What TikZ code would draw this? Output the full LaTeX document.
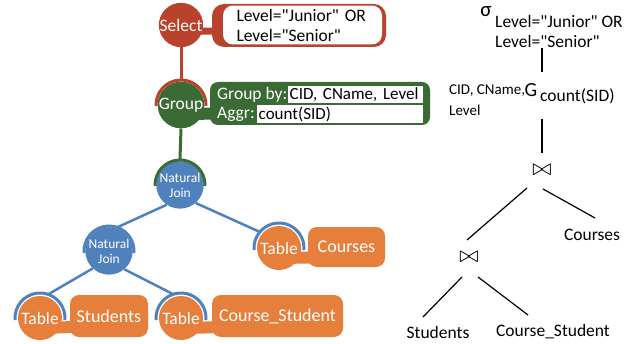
\documentclass[tikz,border=0pt]{standalone}
\usepackage{fontspec}
\setmainfont{Carlito}[Ligatures=TeXOff]
\usetikzlibrary{backgrounds}
\definecolor{selred}{RGB}{184,66,44}
\definecolor{grpgreen}{RGB}{58,107,52}
\definecolor{joinblue}{RGB}{79,129,189}
\definecolor{taborange}{RGB}{231,127,60}
\newcommand{\joinsym}{\scalebox{2.3}{$\bowtie$}}
\begin{document}
\begin{tikzpicture}[x=1pt,y=1pt,
  opnode/.style={circle,fill=#1,text=white,inner sep=0pt,minimum size=44pt,font=\fontsize{17.5}{17.5}\selectfont},
  joinnode/.style={opnode=joinblue,minimum size=42pt,align=center,font=\fontsize{13.5}{15}\selectfont},
  tabbox/.style={rounded corners=9pt,fill=taborange,text=white,minimum height=42pt,font=\fontsize{18}{18}\selectfont},
  hat/.style={line width=3pt,draw=#1},
  neck/.style={line width=#1,line cap=butt},
  link/.style={line width=2.5pt,draw=joinblue},
  field/.style={fill=white,inner sep=1.5pt,minimum height=15pt,anchor=west,align=left,font=\fontsize{17}{17}\selectfont},
  plain/.style={inner sep=0pt,font=\fontsize{17.5}{17.5}\selectfont},
  relsym/.style={inner sep=0pt},
  edge/.style={line width=1.2pt}]
\useasboundingbox (0,0) rectangle (639,343);
\node[opnode=selred] (sel) at (181,318) {Select};
\node[rounded corners=12pt,fill=selred,minimum width=174pt,minimum height=43pt] (selbox) at (299,317.5) {};
\node[rounded corners=10pt,fill=white,minimum width=159pt,minimum height=38pt,text width=132pt,inner xsep=13.5pt,align=left,font=\fontsize{17.5}{20}\selectfont] (selcond) at (302.5,318) {Level="Junior" OR\\Level="Senior"};
\node[opnode=grpgreen] (grp) at (181,238) {Group};
\node[rounded corners=8pt,fill=grpgreen,minimum width=220pt,minimum height=43pt] (grpbox) at (320,239.5) {};
\node[plain,text=white,anchor=west] (grpby) at (217,248) {Group by:};
\node[field,text width=132pt] (grpbyval) at (288,248.5) {CID, CName, Level};
\node[plain,text=white,anchor=west] (aggr) at (217,229) {Aggr:};
\node[field,text width=163pt] (aggrval) at (257,229) {count(SID)};
\node[joinnode] (nj1) at (180,158) {Natural\\Join};
\node[joinnode] (nj2) at (109,92) {Natural\\Join};
\node[opnode=taborange] (tcrs) at (279,95) {Table};
\node[tabbox,minimum width=77pt,minimum height=40pt] (crsbox) at (346.5,96) {Courses};
\node[opnode=taborange] (tstu) at (40,25) {Table};
\node[tabbox,minimum width=78pt] (stubox) at (109,27) {Students};
\node[opnode=taborange] (tcs) at (181,25) {Table};
\node[tabbox,minimum width=131pt] (csbox) at (277.5,27) {Course\_Student};
\begin{scope}[on background layer]
\draw[neck=7pt,selred] ([yshift=-6]sel.center) -- ([yshift=-6]selbox.center);
\draw[neck=12pt,grpgreen] ([yshift=-9]grp.center) -- ([yshift=-9]grpbox.center);
\draw[neck=12pt,taborange] ([yshift=-10]tcrs.center) -- ([yshift=-10]crsbox.center);
\draw[neck=12pt,taborange] ([yshift=-10]tstu.center) -- ([yshift=-10]stubox.center);
\draw[neck=12pt,taborange] ([yshift=-10]tcs.center) -- ([yshift=-10]csbox.center);
\end{scope}
\draw[line width=3pt,selred] (sel.south) -- ([yshift=26]grp.center);
\draw[line width=3pt,grpgreen] (grp.south) -- ([yshift=26]nj1.center);
\draw[link] (nj1.236) -- ([shift={(71:25)}]nj2.center);
\draw[link] (nj1.311) -- ([shift={(140:25)}]tcrs.center);
\draw[link] (nj2.227) -- ([shift={(71:25)}]tstu.center);
\draw[link] (nj2.310) -- ([shift={(108:25)}]tcs.center);
\draw[hat=selred] (grp.center) ++(182:25) arc (182:-2:25);
\draw[hat=grpgreen] (nj1.center) ++(182:25) arc (182:-2:25);
\draw[hat=joinblue] (nj2.center) ++(185:25) arc (185:-5:25);
\draw[hat=joinblue] (tcrs.center) ++(185:25) arc (185:-5:25);
\draw[hat=joinblue] (tstu.center) ++(185:25) arc (185:-5:25);
\draw[hat=joinblue] (tcs.center) ++(185:25) arc (185:-5:25);
\node[plain,font=\fontsize{21}{21}\selectfont] (sig) at (486,331) {σ};
\node[plain,anchor=north west,align=left,font=\fontsize{17.5}{20}\selectfont] (sigcond) at (495,328) {Level="Junior" OR\\Level="Senior"};
\node[plain,anchor=north west,align=left,font=\fontsize{15}{21}\selectfont] (grpcols) at (449,258) {CID, CName,\\Level};
\node[plain,font=\fontsize{20}{20}\selectfont] (gam) at (531,253) {G};
\node[plain,anchor=west] (cnt) at (540,246.5) {count(SID)};
\node[relsym] (j1) at (542,173) {\joinsym};
\node[relsym] (j2) at (469,86) {\joinsym};
\node[plain] (crs) at (592,108) {Courses};
\node[plain] (stu) at (438,11) {Students};
\node[plain] (cs) at (553,11) {Course\_Student};
\draw[edge,shorten >=11pt] (sigcond.south -| j1) -- (gam.north -| j1);
\draw[edge,shorten <=3pt] (grpcols.south -| j1) -- ([yshift=17pt]j1.center);
\draw[edge] ([shift={(-15,-18)}]j1.center) -- ([shift={(-2,17)}]j2.center);
\draw[edge] ([shift={(1,-19)}]j1.center) -- ([shift={(3,17)}]crs.center);
\draw[edge] ([shift={(-7,-20)}]j2.center) -- ([shift={(-15,15)}]stu.center);
\draw[edge] ([shift={(9,-20)}]j2.center) -- ([shift={(-25,17)}]cs.center);
\end{tikzpicture}
\end{document}
